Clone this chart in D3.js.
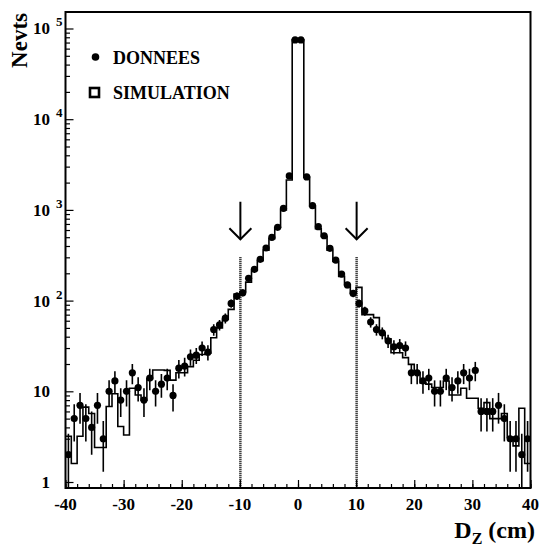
<!DOCTYPE html>
<html><head><meta charset="utf-8">
<script src="https://cdn.jsdelivr.net/npm/d3@7"></script>
<style>
body{margin:0;background:#fff}
svg{display:block}
text{font-family:"Liberation Serif","Times New Roman",serif;font-weight:bold;fill:#000}
</style>
</head><body><svg id="c" width="541" height="548"></svg>
<script>
// ---- data ----
const binEdges = d3.range(-40, 41, 1); // 80 bins of 1 cm
const dataCounts = [
  2,5,7,5,4,7,3,10,13,8,
  10,16,11,8,14,10,12,14,9,18,
  19,24,25,30,27,48,54,64,93,112,
  122,176,221,285,380,499,643,1042,2370,74800,
  74800,2310,1113,653,519,377,280,196,149,120,
  93,77,58,48,44,36,31,32,30,16,
  16,13,14,10,10,14,11,13,16,14,
  17,6,6,6,7,5,3,3,2,3
];
const dataErrors = [
  1.4,2.2,2.6,2.2,2.0,2.6,1.7,3.2,3.6,2.8,
  3.2,4.0,3.3,2.8,3.7,3.2,3.5,3.7,3.0,4.2,
  4.4,4.9,5.0,5.5,5.2,6.9,7.3,8.0,9.6,10.6,
  11,13,15,17,19,22,25,32,49,273,
  273,48,33,26,23,19,17,14,12,11,
  9.6,8.8,7.6,6.9,6.6,6.0,5.6,5.7,5.5,4.0,
  4.0,3.6,3.7,3.2,3.2,3.7,3.3,3.6,4.0,3.7,
  4.1,2.4,2.4,2.4,2.6,2.2,1.7,1.7,1.4,1.7
];
const simCounts = [
  3.2,1.6,3.2,6.7,5.7,2.4,2.4,6.8,9.4,4.1,
  3.3,10.8,9.1,8,13.8,17.2,17.2,17,13.3,16,
  16,18.7,22,25.5,26.3,39,50,62,80,118,
  125,160,215,275,360,480,640,1000,2140,75000,
  75000,2300,1100,620,510,360,270,185,150,120,
  140,70,70,65,44,38,26.6,26.6,23.5,19.8,
  16,12.4,12,11,11,13,9.1,9.1,10.8,8.4,
  8.4,6.5,7.5,5,5,5.7,3.1,2.5,6.5,1.6
];
const xMajorTicks = [-40,-30,-20,-10,0,10,20,30,40];
const xMinorTicks = d3.range(-40, 41, 2);
const yMajorTicks = [1,10,100,1000,10000,100000];
const yTickBase = ["1","10","10","10","10","10"];
const yTickExp  = ["","","2","3","4","5"];
const cutValues = [-10, 10];
const cutLineTop = 300;        // counts level where dotted cut line starts
const arrowSpan = [1230, 475]; // counts: arrow tail, arrow tip
const legendLabels = ["DONNEES", "SIMULATION"];

// ---- layout ----
const svg = d3.select("#c");
const L = 65.5, R = 530.5, T = 12, B = 488;
const x = d3.scaleLinear().domain([-40, 40]).range([L, R]);
const y = d3.scaleLog().domain([0.859, 152000]).range([B, T]);

svg.append("defs").append("clipPath").attr("id","clip")
  .append("rect").attr("x",L).attr("y",T).attr("width",R-L).attr("height",B-T);

// axes (ticks inside frame)
const yMinor = [];
yMajorTicks.slice(0,-1).forEach(d => { for (let k=2;k<=9;k++) yMinor.push(d*k); });

const gy = svg.append("g").attr("transform",`translate(${L},0)`);
gy.call(d3.axisLeft(y).tickValues(yMinor).tickSize(-4.5).tickFormat(""));
const gy2 = svg.append("g").attr("transform",`translate(${L},0)`);
gy2.call(d3.axisLeft(y).tickValues(yMajorTicks).tickSize(-8).tickFormat(""));
[gy,gy2].forEach(g=>{g.select(".domain").remove(); g.selectAll("line").attr("stroke","#000").attr("stroke-width",1.2);});

const gx = svg.append("g").attr("transform",`translate(0,${B})`);
gx.call(d3.axisBottom(x).tickValues(xMinorTicks).tickSize(-4).tickFormat(""));
const gx2 = svg.append("g").attr("transform",`translate(0,${B})`);
gx2.call(d3.axisBottom(x).tickValues(xMajorTicks).tickSize(-8).tickFormat(""));
[gx,gx2].forEach(g=>{g.select(".domain").remove(); g.selectAll("line").attr("stroke","#000").attr("stroke-width",1.2);});

// x tick labels
svg.append("g").selectAll("text").data(xMajorTicks).join("text")
  .attr("x", d => x(d)).attr("y", 509.5).attr("text-anchor","middle")
  .attr("font-size", 17).text(d => d);

// y tick labels
const yl = svg.append("g").selectAll("g").data(yMajorTicks).join("g");
yl.append("text").attr("x", 50).attr("y", d => y(d) + 6)
  .attr("text-anchor","end").attr("font-size",17).text((d,i)=>yTickBase[i]);
yl.append("text").attr("x", 56).attr("y", d => y(d) - 2)
  .attr("text-anchor","start").attr("font-size",13).text((d,i)=>yTickExp[i]);

// axis titles
svg.append("text").attr("transform","translate(27,13) rotate(-90)")
  .attr("text-anchor","end").attr("font-size",23).text("Nevts");
const xt = svg.append("text").attr("x",535).attr("y",538).attr("text-anchor","end").attr("font-size",24);
xt.append("tspan").text("D");
xt.append("tspan").attr("font-size",16).attr("dy",6).text("Z");
xt.append("tspan").attr("dy",-6).text(" (cm)");

// plot area
const plot = svg.append("g").attr("clip-path","url(#clip)");

// simulation histogram
const pts = [];
simCounts.forEach((v,i)=>{ pts.push([binEdges[i], v]); pts.push([binEdges[i+1], v]); });
plot.append("path")
  .attr("d", d3.line().x(d=>x(d[0])).y(d=>y(d[1]))(pts))
  .attr("fill","none").attr("stroke","#000").attr("stroke-width",1.6);

// data error bars and points
const centers = dataCounts.map((v,i)=>(binEdges[i]+binEdges[i+1])/2);
plot.append("g").selectAll("line").data(dataCounts).join("line")
  .attr("x1",(d,i)=>x(centers[i])).attr("x2",(d,i)=>x(centers[i]))
  .attr("y1",(d,i)=> d-dataErrors[i] > 0 ? y(d-dataErrors[i]) : B)
  .attr("y2",(d,i)=> y(d+dataErrors[i]))
  .attr("stroke","#000").attr("stroke-width",1.6);
plot.append("g").selectAll("circle").data(dataCounts).join("circle")
  .attr("cx",(d,i)=>x(centers[i])).attr("cy",d=>y(d)).attr("r",3.6).attr("fill","#000");

// cut lines and arrows
cutValues.forEach(c=>{
  svg.append("line").attr("x1",x(c)+0.5).attr("x2",x(c)+0.5).attr("y1",y(cutLineTop)).attr("y2",B)
    .attr("stroke","#000").attr("stroke-width",2.5).attr("stroke-dasharray","1,1");
  svg.append("line").attr("x1",x(c)+0.5).attr("x2",x(c)+0.5).attr("y1",y(arrowSpan[0])).attr("y2",y(arrowSpan[1]))
    .attr("stroke","#000").attr("stroke-width",2);
  svg.append("path")
    .attr("d",`M${x(c)+0.5-11},${y(arrowSpan[1])-11}L${x(c)+0.5},${y(arrowSpan[1])}L${x(c)+0.5+11},${y(arrowSpan[1])-11}`)
    .attr("fill","none").attr("stroke","#000").attr("stroke-width",2);
});

// frame
svg.append("rect").attr("x",L).attr("y",T).attr("width",R-L).attr("height",B-T)
  .attr("fill","none").attr("stroke","#000").attr("stroke-width",2);

// legend
const lg = svg.append("g");
lg.append("circle").attr("cx",95.5).attr("cy",57).attr("r",3.8).attr("fill","#000");
lg.append("rect").attr("x",90).attr("y",88).attr("width",9).attr("height",9)
  .attr("fill","none").attr("stroke","#000").attr("stroke-width",2.6);
lg.selectAll("text").data(legendLabels).join("text")
  .attr("x",113).attr("y",(d,i)=>63.5+i*35).attr("font-size",18).text(d=>d);
</script>
</body></html>
